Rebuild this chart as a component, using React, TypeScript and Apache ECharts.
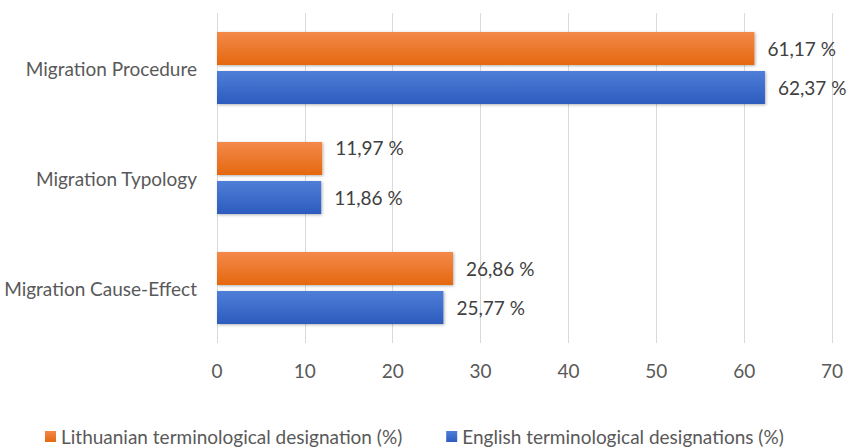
import React, { useEffect, useRef } from "react";
import * as echarts from "echarts";

const categories = ["Migration Cause-Effect", "Migration Typology", "Migration Procedure"];
const lithuanian = [26.86, 11.97, 61.17];
const english = [25.77, 11.86, 62.37];
const xTicks = { min: 0, max: 70, interval: 10 };
const seriesNames = ["Lithuanian terminological designation (%)", "English terminological designations (%)"];

const FONT = "Lato";
const FS = 19;

const fmt = (v: number) => v.toFixed(2).replace(".", ",") + " %";

export default function App() {
  const ref = useRef<HTMLDivElement>(null);
  useEffect(() => {
    if (!ref.current) return;
    const chart = echarts.init(ref.current, null, { renderer: "svg" });
    const orange = new echarts.graphic.LinearGradient(0, 0, 0, 1, [
      { offset: 0, color: "#F3894A" },
      { offset: 1, color: "#E5680F" },
    ]);
    const blue = new echarts.graphic.LinearGradient(0, 0, 0, 1, [
      { offset: 0, color: "#4F7ED8" },
      { offset: 1, color: "#2C5CBE" },
    ]);
    const labelStyle = {
      show: true,
      position: "right",
      distance: 13,
      color: "#404040",
      fontFamily: FONT,
      fontSize: FS,
      formatter: (p: any) => fmt(p.value),
    };
    chart.setOption({
      animation: false,
      textStyle: { fontFamily: FONT },
      grid: { left: 217, right: 16, top: 13, bottom: 104, containLabel: false },
      xAxis: {
        type: "value",
        min: xTicks.min,
        max: xTicks.max,
        interval: xTicks.interval,
        axisLine: { show: false },
        axisTick: { show: false },
        splitLine: { show: true, lineStyle: { color: "#D9D9D9", width: 1 } },
        axisLabel: { color: "#595959", fontSize: FS, fontFamily: FONT, margin: 18 },
      },
      yAxis: {
        type: "category",
        data: categories,
        axisLine: { show: false },
        axisTick: { show: false },
        axisLabel: { color: "#595959", fontSize: FS, fontFamily: FONT, margin: 20 },
      },
      legend: {
        top: 422,
        left: 40,
        itemWidth: 11,
        itemHeight: 11,
        itemGap: 44,
        icon: "rect",
        data: seriesNames,
        textStyle: { color: "#595959", fontSize: FS, fontFamily: FONT },
      },
      series: [
        {
          name: seriesNames[0],
          type: "bar",
          data: lithuanian.map((v, i) => (i === 1 ? { value: v, label: { offset: [0, -11] } } : v)),
          barWidth: 33,
          barGap: "18%",
          itemStyle: { color: orange, shadowColor: "rgba(0,0,0,0.3)", shadowBlur: 3, shadowOffsetX: 1, shadowOffsetY: 1 },
          label: labelStyle,
        },
        {
          name: seriesNames[1],
          type: "bar",
          data: english,
          barWidth: 33,
          barGap: "18%",
          itemStyle: { color: blue, shadowColor: "rgba(0,0,0,0.3)", shadowBlur: 3, shadowOffsetX: 1, shadowOffsetY: 1 },
          label: labelStyle,
        },
      ],
    });
    return () => chart.dispose();
  }, []);
  return (
    <div
      ref={ref}
      style={{ position: "fixed", left: 0, top: 0, width: 848, height: 447, background: "#fff" }}
    />
  );
}
